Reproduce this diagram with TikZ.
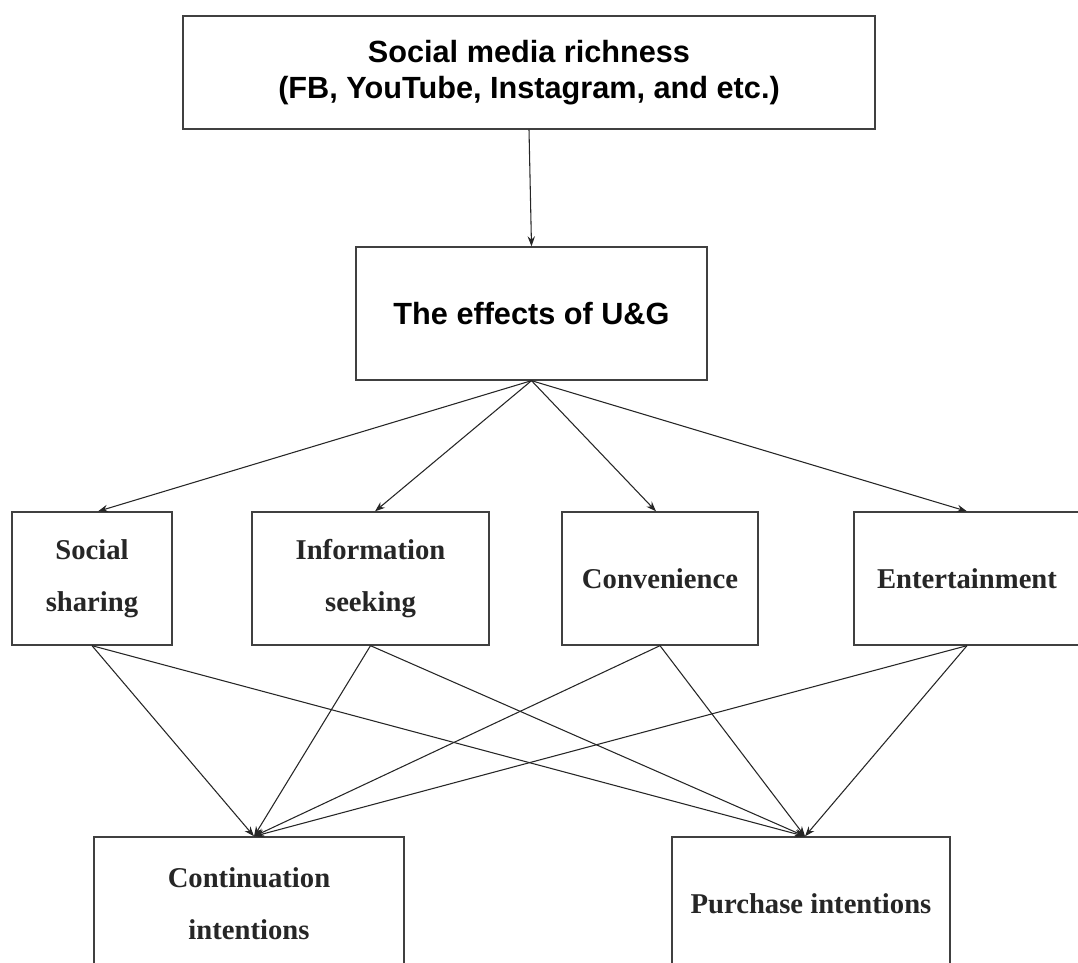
\documentclass[tikz,border=0pt]{standalone}
\usepackage{fontspec}
\setmainfont{Liberation Serif}
\setsansfont{Liberation Sans}
\usetikzlibrary{arrows.meta}
\tikzset{
  headbox/.style={draw=black!75, line width=1pt, align=center, inner sep=0pt,
    font=\sffamily\bfseries\fontsize{23}{27.5}\selectfont},
  usebox/.style={draw=black!75, line width=1pt, align=center, inner sep=0pt,
    text=black!85, font=\bfseries\fontsize{21.5}{39}\selectfont,
    minimum height=99.75pt},
  link/.style={draw=black!85, line width=0.8pt, -{Stealth[length=7.5pt,width=5.5pt]}}
}
\begin{document}
\begin{tikzpicture}[x=0.75pt,y=-0.75pt]
    \useasboundingbox (0,0) rectangle (1078,963);
    \clip (0,0) rectangle (1078,963);
    \node[headbox, minimum width=519pt, minimum height=84.75pt] (rich) at (529,72.5) {Social media richness\\(FB, YouTube, Instagram, and etc.)};
    \node[headbox, minimum width=263.25pt, minimum height=99.75pt] (ug) at (531.5,313.5) {The effects of U\&G};
    \node[usebox, minimum width=120pt] (share) at (92,578.5) {Social\\sharing};
    \node[usebox, minimum width=177.75pt] (info) at (370.5,578.5) {Information\\seeking};
    \node[usebox, minimum width=147pt] (conv) at (660,578.5) {Convenience};
    \node[usebox, minimum width=169.5pt] (ent) at (967,578.5) {Entertainment};
    \node[usebox, minimum width=232.5pt] (cont) at (249,903.5) {Continuation\\intentions};
    \node[usebox, minimum width=208.5pt] (buy) at (811,903.5) {Purchase intentions};
    \draw[link] (rich.south) -- (ug.north);
    \draw[link] (ug.south) -- ([xshift=4.5pt]share.north);
    \draw[link] (ug.south) -- ([xshift=3.4pt]info.north);
    \draw[link] (ug.south) -- ([xshift=-3pt]conv.north);
    \draw[link] (ug.south) -- (ent.north);
    \draw[link] (share.south) -- ([xshift=3.75pt]cont.north);
    \draw[link] (share.south) -- ([xshift=-4.5pt]buy.north);
    \draw[link] (info.south) -- ([xshift=3.75pt]cont.north);
    \draw[link] (info.south) -- ([xshift=-4.5pt]buy.north);
    \draw[link] (conv.south) -- ([xshift=3.75pt]cont.north);
    \draw[link] (conv.south) -- ([xshift=-4.5pt]buy.north);
    \draw[link] (ent.south) -- ([xshift=3.75pt]cont.north);
    \draw[link] (ent.south) -- ([xshift=-4.5pt]buy.north);
\end{tikzpicture}
\end{document}
